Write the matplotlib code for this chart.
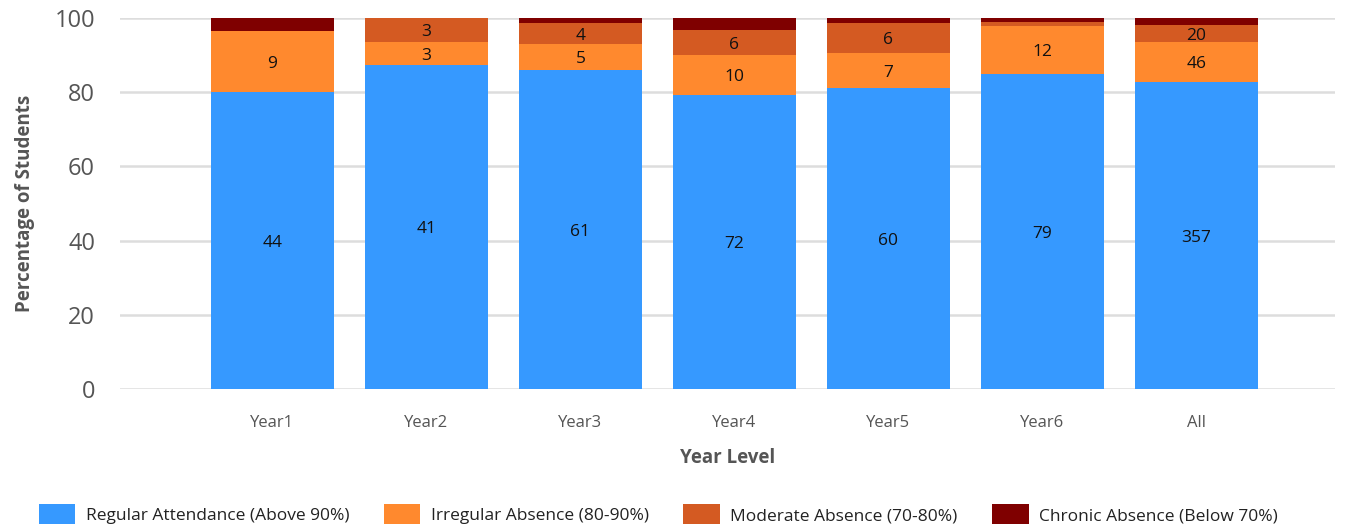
import matplotlib.pyplot as plt
import numpy as np

plt.rcParams['font.family'] = ['Open Sans', 'DejaVu Sans']

years = ['Year1', 'Year2', 'Year3', 'Year4', 'Year5', 'Year6', 'All']
regular = [44, 41, 61, 72, 60, 79, 357]
irregular = [9, 3, 5, 10, 7, 12, 46]
moderate = [0, 3, 4, 6, 6, 1, 20]
chronic = [2, 0, 1, 3, 1, 1, 8]

series = [
    ('Regular Attendance (Above 90%)', regular, '#3699ff'),
    ('Irregular Absence (80-90%)', irregular, '#ff892e'),
    ('Moderate Absence (70-80%)', moderate, '#d45a22'),
    ('Chronic Absence (Below 70%)', chronic, '#7f0000'),
]

totals = np.array(regular) + np.array(irregular) + np.array(moderate) + np.array(chronic)

fig = plt.figure(figsize=(13.6, 5.32), dpi=100)
ax = fig.add_axes([120/1360, (532-389)/532, (1335-120)/1360, (389-18)/532])

x = np.arange(len(years))
bottom = np.zeros(len(years))
for name, vals, col in series:
    pct = np.array(vals) / totals * 100
    ax.bar(x, pct, 0.8, bottom=bottom, color=col, label=name, zorder=2)
    if name != 'Chronic Absence (Below 70%)':
        for i in range(len(years)):
            if pct[i] >= 4:
                ax.text(x[i], bottom[i] + pct[i] / 2 - 0.6, str(vals[i]), ha='center', va='center',
                        fontsize=12.5, color='#111111', zorder=3)
    bottom += pct

ax.set_xlim(-0.99, 6.9)
ax.set_ylim(0, 100)
ax.set_yticks([0, 20, 40, 60, 80, 100])
ax.yaxis.grid(True, color='#dddddd', linewidth=1.8, zorder=0)
ax.set_axisbelow(True)
for s in ax.spines.values():
    s.set_visible(False)
ax.tick_params(axis='y', length=0, labelsize=17, labelcolor='#555555', pad=18)
ax.tick_params(axis='x', length=0, labelsize=12, labelcolor='#555555', pad=19)
ax.set_xticks(x)
ax.set_xticklabels(years)
ax.set_ylabel('Percentage of Students', fontsize=13.5, fontweight='bold', color='#555555', labelpad=14)
ax.set_xlabel('Year Level', fontsize=13.5, fontweight='bold', color='#555555', labelpad=12)

fig.legend(loc='lower center', bbox_to_anchor=(0.484, -0.015), ncol=4, frameon=False,
           fontsize=12.5, handlelength=2.1, handleheight=1.4, columnspacing=2.0, handletextpad=0.6,
           labelcolor='#222222')

fig.savefig('out.png', dpi=100)
